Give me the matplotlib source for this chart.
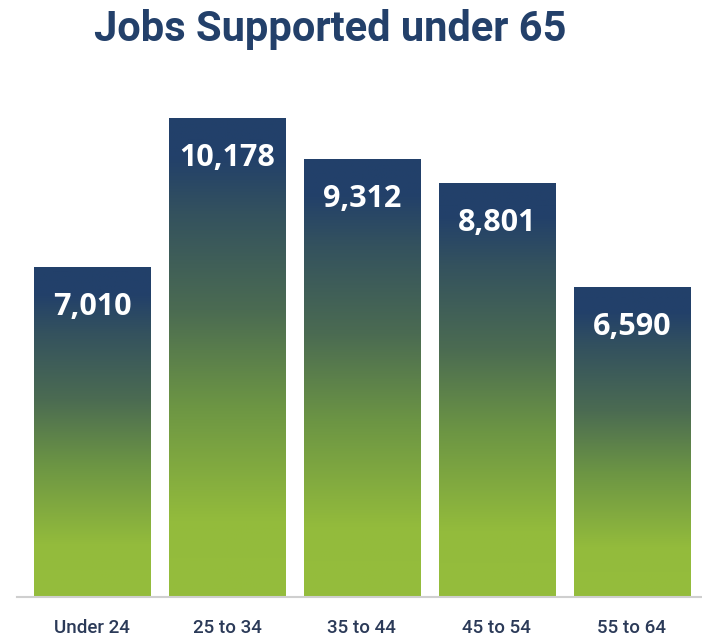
import numpy as np
import matplotlib
matplotlib.use("Agg")
import matplotlib.pyplot as plt
from matplotlib.colors import LinearSegmentedColormap

categories = ["Under 24", "25 to 34", "35 to 44", "45 to 54", "55 to 64"]
jobs = [7010, 10178, 9312, 8801, 6590]

NAVY = "#23406a"

# vertical fade used inside every bar: green at the base, navy at the top
fade = LinearSegmentedColormap.from_list("fade", [
    (0.00, "#95bd3c"),
    (0.16, "#93bb3c"),
    (0.40, "#6c9544"),
    (0.60, "#4b6b52"),
    (0.80, "#34525e"),
    (0.92, "#22406a"),
    (1.00, "#22406a"),
])

fig = plt.figure(figsize=(7.02, 6.4), dpi=100)
ax = fig.add_axes([17 / 702, 1 - 597 / 640, 1 - 17 / 702, (597 - 100) / 640])

x = np.arange(len(categories))
bars = ax.bar(x, jobs, width=0.86, facecolor="none", edgecolor="none")

grad = np.linspace(0, 1, 256).reshape(-1, 1)
for bar, val in zip(bars, jobs):
    x0 = bar.get_x()
    w = bar.get_width()
    im = ax.imshow(grad, cmap=fade, origin="lower", aspect="auto",
                   extent=[x0, x0 + w, 0, val], zorder=2)
    im.set_clip_path(bar)
    ax.annotate(f"{val:,}", xy=(bar.get_x() + w / 2, val),
                xytext=(0, -40), textcoords="offset pixels",
                ha="center", va="center", color="white",
                fontsize=22, fontweight="bold", family="Open Sans", zorder=3)

ax.set_xlim(-0.556, 4.52)
ax.set_ylim(0, 10561)

ax.set_xticks(x)
ax.set_xticklabels(categories, fontsize=13.5, color="#2b3a58", family="Roboto",
                   fontweight="medium")
ax.tick_params(axis="x", length=0, pad=16)
ax.set_yticks([])

for side in ("top", "right", "left"):
    ax.spines[side].set_visible(False)
ax.spines["bottom"].set_color("#cfcfcf")
ax.spines["bottom"].set_linewidth(1.5)

fig.text(330 / 702, 1 - 29 / 640, "Jobs Supported under 65", ha="center",
         va="center", fontsize=30, fontweight="bold", color=NAVY,
         family="Roboto")

fig.savefig("out.png", dpi=100)
